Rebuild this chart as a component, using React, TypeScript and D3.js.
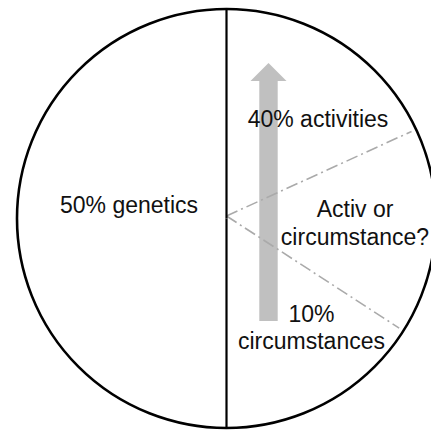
import React from "react";
import * as d3 from "d3";

// Slices clockwise from 12 o'clock
const sliceNames = ["activities", "uncertain", "circumstances", "genetics"];
const sliceValues = [18, 16, 16, 50];
const dashedBoundaries = ["uncertain", "circumstances"];

const labelGenetics = ["50% genetics"];
const labelActivities = ["40% activities"];
const labelUncertain = ["Activ or", "circumstance?"];
const labelCircumstances = ["10%", "circumstances"];

const W = 431;
const H = 432;
const CX = 226.5;
const CY = 218.5;
const R = 209.5;

export default function App() {
  const pie = d3.pie<number>().sort(null).value((d) => d);
  const arcs = pie(sliceValues);
  const arcGen = d3.arc<d3.PieArcDatum<number>>().innerRadius(0).outerRadius(R);

  const pt = (a: number, r: number) => [Math.sin(a) * r, -Math.cos(a) * r];

  const solidAngles = [0, Math.PI];
  const dashed = arcs.filter((a, i) => dashedBoundaries.includes(sliceNames[i]));

  // arrow geometry
  const ax = 268.5;
  const shaftW = 18.4;
  const headW = 36;
  const tipY = 63;
  const baseY = 81;
  const bottomY = 321;
  const arrowPath = d3.path();
  arrowPath.moveTo(ax, tipY);
  arrowPath.lineTo(ax + headW / 2, baseY);
  arrowPath.lineTo(ax + shaftW / 2, baseY);
  arrowPath.lineTo(ax + shaftW / 2, bottomY);
  arrowPath.lineTo(ax - shaftW / 2, bottomY);
  arrowPath.lineTo(ax - shaftW / 2, baseY);
  arrowPath.lineTo(ax - headW / 2, baseY);
  arrowPath.closePath();

  const font = { fontFamily: "'Liberation Sans', Arial, sans-serif", fontSize: 23, fill: "#111" };

  const textBlock = (lines: string[], x: number, y: number, lh = 28) => (
    <text x={x} y={y} textAnchor="middle" style={font}>
      {lines.map((l, i) => (
        <tspan key={i} x={x} dy={i === 0 ? 0 : lh}>
          {l}
        </tspan>
      ))}
    </text>
  );

  return (
    <svg width={W} height={H} style={{ position: "absolute", left: 0, top: 0, background: "#fff" }}>
      <g transform={`translate(${CX},${CY})`}>
        {arcs.map((a, i) => (
          <path key={sliceNames[i]} d={arcGen(a) || ""} fill="#fff" stroke="none" />
        ))}
      </g>
      <path d={arrowPath.toString()} fill="#c0c0c0" />
      <g transform={`translate(${CX},${CY})`}>
        {dashed.map((a, i) => {
          const [x2, y2] = pt(a.startAngle, R - 5);
          return (
            <line
              key={i}
              x1={0}
              y1={-2.5}
              x2={x2}
              y2={y2}
              stroke="#aaaaaa"
              strokeWidth={1.6}
              strokeDasharray="12,4,2,4"
            />
          );
        })}
        <circle r={R} fill="none" stroke="#000" strokeWidth={2.6} />
        {solidAngles.map((ang, i) => {
          const [x2, y2] = pt(ang, R);
          return <line key={i} x1={0} y1={0} x2={x2} y2={y2} stroke="#000" strokeWidth={2.2} />;
        })}
      </g>
      {textBlock(labelGenetics, 129, 213)}
      {textBlock(labelActivities, 318, 127)}
      {textBlock(labelUncertain, 355, 217)}
      {textBlock(labelCircumstances, 311.5, 322, 27)}
    </svg>
  );
}
